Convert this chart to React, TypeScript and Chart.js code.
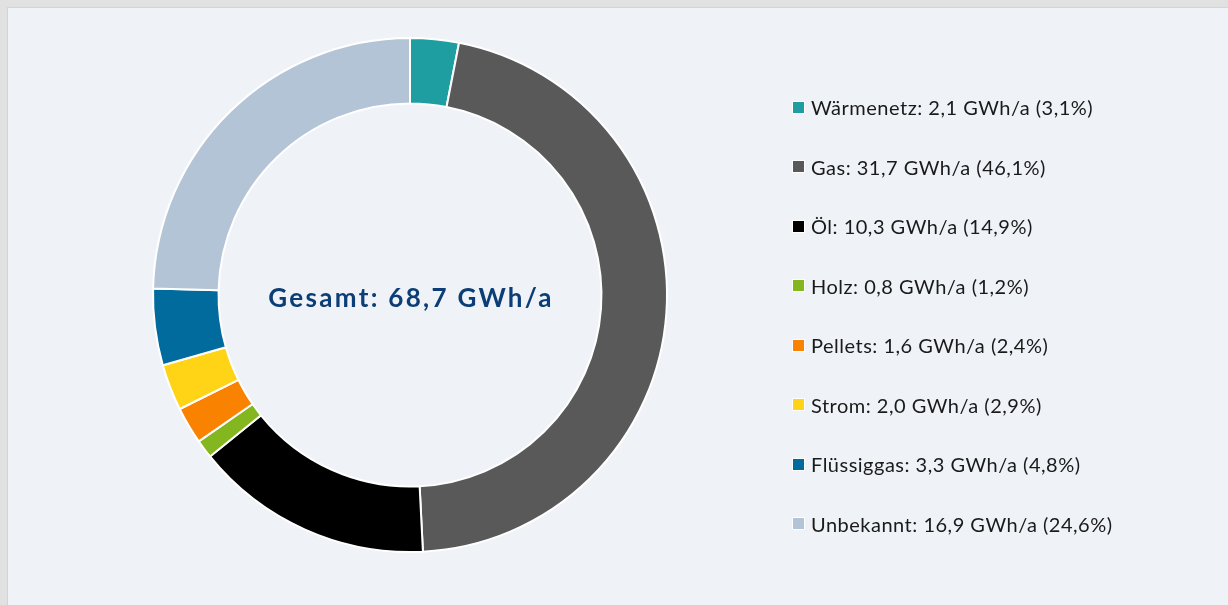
import React, { useEffect, useRef } from "react";
import { Chart, registerables } from "chart.js";

Chart.register(...registerables);

const categories = ["Wärmenetz", "Gas", "Öl", "Holz", "Pellets", "Strom", "Flüssiggas", "Unbekannt"];
const valuesGWh = [2.1, 31.7, 10.3, 0.8, 1.6, 2.0, 3.3, 16.9];
const valueLabels = ["2,1", "31,7", "10,3", "0,8", "1,6", "2,0", "3,3", "16,9"];
const percentLabels = ["3,1%", "46,1%", "14,9%", "1,2%", "2,4%", "2,9%", "4,8%", "24,6%"];
const colors = ["#1f9ea1", "#595959", "#000000", "#84b620", "#f98200", "#ffd416", "#006b9c", "#b3c4d6"];
const totalLabel = "Gesamt: 68,7 GWh/a";

const FONT = "'Lato', 'Liberation Sans', sans-serif";

export default function App() {
  const ref = useRef<HTMLCanvasElement | null>(null);

  useEffect(() => {
    if (!ref.current) return;
    const chart = new Chart(ref.current, {
      type: "doughnut",
      data: {
        labels: categories,
        datasets: [
          {
            data: valuesGWh,
            backgroundColor: colors,
            borderColor: "#ffffff",
            borderWidth: 2,
          },
        ],
      },
      options: {
        animation: false,
        responsive: false,
        maintainAspectRatio: false,
        cutout: "74.5%",
        layout: { padding: { left: 144, top: 29, right: 160, bottom: 52 } },
        plugins: {
          legend: { display: false },
          tooltip: { enabled: false },
        },
      },
    });
    return () => chart.destroy();
  }, []);

  return (
    <div
      style={{
        position: "absolute",
        left: 0,
        top: 0,
        width: 1228,
        height: 605,
        background: "#e1e1e1",
        overflow: "hidden",
      }}
    >
      <div
        style={{
          position: "absolute",
          left: 7,
          top: 7,
          width: 1240,
          height: 620,
          background: "#eff2f7",
          borderLeft: "1px solid #d2d4d8",
          borderTop: "1px solid #d2d4d8",
        }}
      >
        <canvas ref={ref} width={820} height={597} style={{ position: "absolute", left: 0, top: 0 }} />
        <div
          style={{
            position: "absolute",
            left: 403 - 200,
            top: 274,
            width: 400,
            textAlign: "center",
            fontFamily: FONT,
            fontWeight: 700,
            fontSize: 26,
            letterSpacing: 2.3,
            color: "#0b3e76",
            lineHeight: "30px",
          }}
        >
          {totalLabel}
        </div>
        {categories.map((c, i) => (
          <div
            key={c}
            style={{
              position: "absolute",
              left: 784,
              top: 87 + i * 59.5,
              height: 24,
              display: "flex",
              alignItems: "center",
              fontFamily: FONT,
              fontSize: 20,
              letterSpacing: 0.5,
              color: "#1a1a1a",
              whiteSpace: "nowrap",
            }}
          >
            <span
              style={{
                display: "inline-block",
                width: 11,
                height: 11,
                background: colors[i],
                border: "1px solid #ffffff",
                marginRight: 6,
              }}
            />
            <span>{`${c}: ${valueLabels[i]} GWh/a (${percentLabels[i]})`}</span>
          </div>
        ))}
      </div>
    </div>
  );
}
